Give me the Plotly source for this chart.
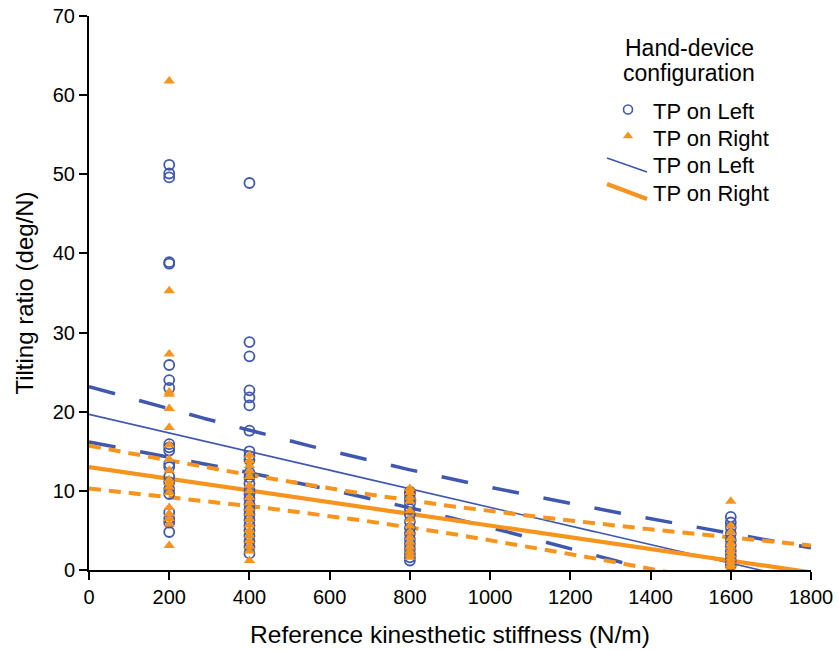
import numpy as np
import plotly.graph_objects as go

# Reference stiffness levels (N/m)
stiffness_levels = [200, 400, 800, 1600]

# Tilting ratio (deg/N) observations, TP on Left
left_200 = [51.2, 50.1, 49.6, 38.9, 38.7, 25.9, 24.0, 23.0, 15.9, 15.5, 15.1, 13.4,
            13.0, 11.8, 11.1, 10.2, 9.6, 7.3, 6.5, 6.0, 4.8]
left_400 = [48.9, 28.8, 27.0, 22.7, 21.8, 20.8, 17.6, 15.0, 14.4, 13.9, 12.3, 11.7,
            10.9, 10.1, 9.6, 9.0, 8.3, 7.6, 7.0, 6.3, 5.6, 5.0, 4.3, 3.6, 2.9, 2.1]
left_800 = [9.9, 9.6, 9.0, 8.4, 7.7, 7.0, 6.1, 5.3, 4.6, 3.9, 3.3, 2.7, 2.1, 1.6, 1.2]
left_1600 = [6.7, 6.0, 5.4, 4.6, 3.8, 3.1, 2.4, 1.8, 1.2, 0.6]

# Tilting ratio (deg/N) observations, TP on Right
right_200 = [61.8, 35.3, 27.3, 22.5, 22.2, 20.4, 18.0, 15.8, 14.0, 12.6, 11.4, 11.0,
             10.5, 9.8, 7.9, 7.1, 6.5, 5.8, 3.1]
right_400 = [14.5, 13.8, 13.2, 12.5, 11.8, 10.7, 10.0, 9.2, 8.5, 7.8, 7.2, 6.4, 5.7,
             5.0, 4.4, 3.7, 3.0, 2.4, 1.2]
right_800 = [10.3, 9.8, 9.2, 8.7, 7.5, 6.4, 5.6, 4.8, 4.1, 3.5, 2.9, 2.4, 2.0, 1.6]
right_1600 = [8.7, 5.6, 4.8, 4.0, 3.4, 2.9, 2.4, 1.9, 1.5, 1.1, 0.7, 0.4]

# Linear fit and 95% mean confidence band parameters: [TP on Left, TP on Right]
fit_intercept = [19.67, 13.0]
fit_slope = [-0.01176, -0.00739]
fit_xmean = [750.0, 750.0]
ci_half_at_mean = [2.39, 1.69]
ci_growth = [0.00341, 0.00281]

x_ticks = [0, 200, 400, 600, 800, 1000, 1200, 1400, 1600, 1800]
y_ticks = [0, 10, 20, 30, 40, 50, 60, 70]

BLUE = "#3F58AE"
ORANGE = "#F7941D"
FONT = "Liberation Sans, Arial, sans-serif"

W, H = 839, 651
ML, MR, MT, MB = 89, 28, 16, 81


def px(xp):
    return (xp - ML) / (W - ML - MR)


def py(yp):
    return (H - MB - yp) / (H - MT - MB)


def expand(levels, groups):
    xs, ys = [], []
    for lvl, vals in zip(levels, groups):
        xs += [lvl] * len(vals)
        ys += vals
    return xs, ys


fig = go.Figure()

xgrid = np.linspace(0, 1800, 361)
styles = [
    dict(color=BLUE, fit_w=1.6, band_w=3.5, dash="27px,25px"),
    dict(color=ORANGE, fit_w=4.2, band_w=4.0, dash="12px,8px"),
]
for i, st in enumerate(styles):
    fit = fit_intercept[i] + fit_slope[i] * xgrid
    half = np.sqrt(ci_half_at_mean[i] ** 2 + (ci_growth[i] * (xgrid - fit_xmean[i])) ** 2)
    for band in (fit + half, fit - half):
        fig.add_trace(go.Scatter(x=xgrid, y=band, mode="lines", showlegend=False,
                                 hoverinfo="skip",
                                 line=dict(color=st["color"], width=st["band_w"], dash=st["dash"])))
    fig.add_trace(go.Scatter(x=xgrid, y=fit, mode="lines", showlegend=False,
                             hoverinfo="skip",
                             line=dict(color=st["color"], width=st["fit_w"])))

lx, ly = expand(stiffness_levels, [left_200, left_400, left_800, left_1600])
rx, ry = expand(stiffness_levels, [right_200, right_400, right_800, right_1600])

fig.add_trace(go.Scatter(x=lx, y=ly, mode="markers", name="TP on Left", showlegend=False,
                         marker=dict(symbol="circle-open", size=10, color=BLUE,
                                     line=dict(color=BLUE, width=1.8)),
                         cliponaxis=False))
fig.add_trace(go.Scatter(x=rx, y=ry, mode="markers", name="TP on Right", showlegend=False,
                         marker=dict(symbol="triangle-up", size=10, color=ORANGE,
                                     line=dict(width=0)),
                         cliponaxis=False))

# Legend symbols on an overlay axis spanning the plot area
fig.add_trace(go.Scatter(x=[px(628)], y=[py(109.5)], xaxis="x2", yaxis="y2", mode="markers",
                         showlegend=False, hoverinfo="skip", cliponaxis=False,
                         marker=dict(symbol="circle-open", size=9, color=BLUE,
                                     line=dict(color=BLUE, width=1.6))))
fig.add_trace(go.Scatter(x=[px(628)], y=[py(136)], xaxis="x2", yaxis="y2", mode="markers",
                         showlegend=False, hoverinfo="skip", cliponaxis=False,
                         marker=dict(symbol="triangle-up", size=9, color=ORANGE)))

shapes = [
    dict(type="line", xref="paper", yref="paper", x0=px(607), y0=py(158), x1=px(647), y1=py(172),
         line=dict(color=BLUE, width=1.8)),
    dict(type="line", xref="paper", yref="paper", x0=px(607), y0=py(184), x1=px(647), y1=py(199),
         line=dict(color=ORANGE, width=4.5)),
]

annotations = [
    dict(text="Hand-device", x=px(689), y=py(47.5), xref="paper", yref="paper",
         xanchor="center", yanchor="middle", showarrow=False,
         font=dict(size=23, color="black", family=FONT)),
    dict(text="configuration", x=px(689), y=py(73), xref="paper", yref="paper",
         xanchor="center", yanchor="middle", showarrow=False,
         font=dict(size=23, color="black", family=FONT)),
]
for label, yc in [("TP on Left", 111), ("TP on Right", 138.5), ("TP on Left", 166), ("TP on Right", 193.5)]:
    annotations.append(dict(text=label, x=px(651), y=py(yc), xref="paper", yref="paper",
                            xanchor="left", yanchor="middle", showarrow=False,
                            font=dict(size=22, color="black", family=FONT)))

fig.update_layout(
    width=W, height=H,
    margin=dict(l=ML, r=MR, t=MT, b=MB, pad=0, autoexpand=False),
    plot_bgcolor="white", paper_bgcolor="white",
    font=dict(family=FONT, color="black", size=20),
    showlegend=False,
    shapes=shapes,
    annotations=annotations,
    xaxis=dict(range=[0, 1800], tickvals=x_ticks, ticktext=[str(v) for v in x_ticks],
               showline=True, linecolor="black", linewidth=2, ticks="outside",
               ticklen=8, tickwidth=2, tickcolor="black", showgrid=False, zeroline=False,
               tickfont=dict(size=20), automargin=False,
               title=dict(text="Reference kinesthetic stiffness (N/m)", font=dict(size=24.5), standoff=19)),
    yaxis=dict(range=[0, 70], tickvals=y_ticks, ticktext=[str(v) for v in y_ticks],
               showline=True, linecolor="black", linewidth=2, ticks="outside",
               ticklen=8, tickwidth=2, tickcolor="black", showgrid=False, zeroline=False,
               tickfont=dict(size=20), automargin=False,
               title=dict(text="Tilting ratio (deg/N)", font=dict(size=24), standoff=12)),
    xaxis2=dict(overlaying="x", range=[0, 1], visible=False),
    yaxis2=dict(overlaying="y", range=[0, 1], visible=False),
)

fig.write_html("out.html")
